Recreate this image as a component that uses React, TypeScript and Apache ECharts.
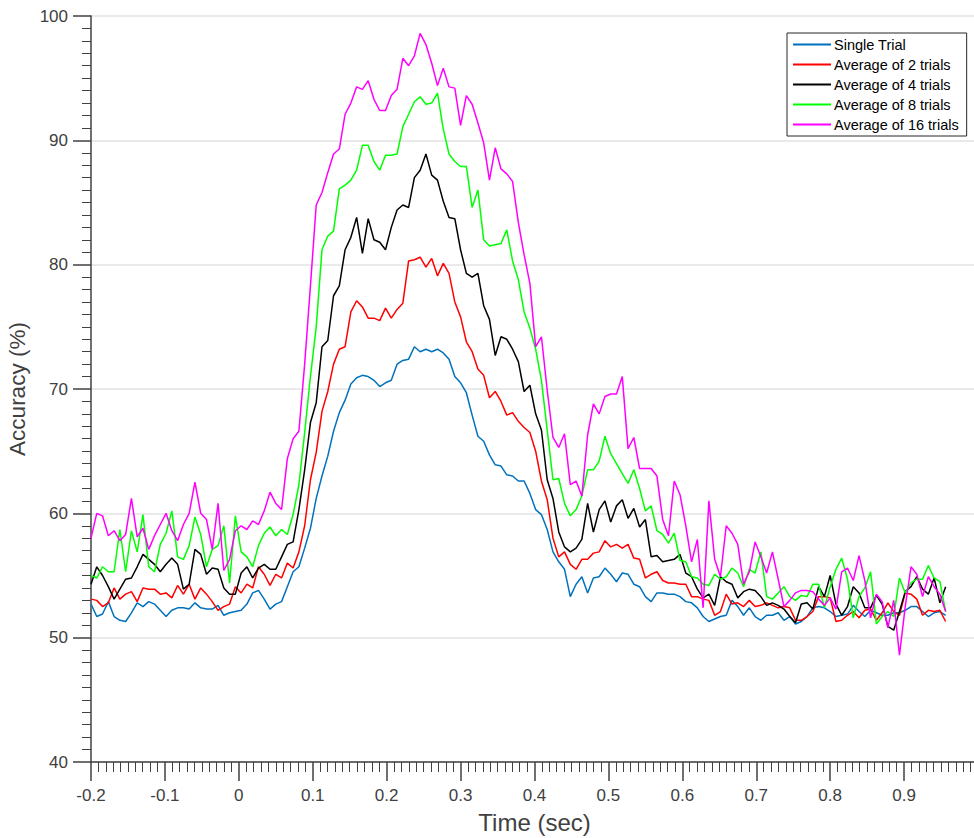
import React, { useEffect, useRef } from "react";
import * as echarts from "echarts";

// Sampling of the decoding time course (seconds)
const T_START = -0.2;
const SAMPLE_RATE = 128;

const seriesNames = [
  "Single Trial",
  "Average of 2 trials",
  "Average of 4 trials",
  "Average of 8 trials",
  "Average of 16 trials",
];

const singleTrial = [
  52.7, 51.7, 51.9, 52.9, 51.7, 51.4, 51.3, 52.0, 52.8, 52.5, 52.9, 52.7, 52.2, 51.7, 52.2, 52.4, 52.4, 52.3, 52.8, 52.4,
  52.3, 52.3, 52.6, 51.8, 52.0, 52.1, 52.2, 52.7, 53.6, 53.8, 53.1, 52.3, 52.7, 52.9, 54.1, 55.3, 55.7, 57.2, 58.8, 61.2,
  63.0, 64.6, 66.6, 68.1, 69.1, 70.4, 70.9, 71.1, 71.0, 70.7, 70.2, 70.5, 70.7, 72.0, 72.3, 72.4, 73.4, 73.0, 73.2, 73.0,
  73.2, 72.9, 72.4, 71.0, 70.5, 69.7, 67.9, 66.2, 65.8, 64.7, 63.9, 63.8, 63.1, 63.0, 62.6, 62.6, 61.6, 60.3, 59.9, 58.7,
  56.9, 56.1, 55.5, 53.3, 54.3, 54.9, 53.6, 54.8, 54.9, 55.6, 55.1, 54.5, 55.2, 55.1, 54.3, 54.1, 53.3, 52.9, 53.6, 53.6,
  53.5, 53.5, 53.3, 52.9, 52.8, 52.4, 51.7, 51.3, 51.5, 51.7, 51.8, 53.0, 52.5, 51.8, 52.4, 51.7, 51.4, 51.8, 51.8, 52.0,
  51.4, 51.7, 51.1, 51.3, 51.7, 52.4, 52.5, 52.4, 52.1, 51.7, 51.8, 51.9, 52.6, 52.1, 51.7, 52.2, 52.0, 51.8, 51.8, 52.0,
  52.0, 52.2, 52.5, 52.5, 52.1, 51.7, 52.0, 52.1, 51.8,
];

const averageOf2 = [
  53.1, 53.0, 52.5, 52.8, 54.0, 53.1, 53.5, 53.7, 52.9, 54.0, 53.9, 53.9, 53.5, 53.6, 53.2, 54.2, 53.5, 54.3, 53.1, 54.0,
  53.5, 52.9, 52.2, 52.5, 52.7, 54.1, 53.6, 54.3, 54.0, 55.7, 55.1, 54.2, 55.1, 54.8, 56.0, 55.6, 56.9, 59.0, 62.7, 64.9,
  68.2, 69.8, 72.0, 73.2, 73.4, 76.2, 77.1, 76.6, 75.7, 75.7, 75.5, 76.5, 75.7, 76.4, 76.9, 80.3, 80.4, 80.6, 79.8, 80.5,
  79.1, 80.1, 79.3, 77.0, 75.8, 73.8, 73.0, 71.6, 71.1, 69.3, 69.8, 69.0, 67.9, 68.1, 67.4, 66.9, 66.5, 65.0, 62.6, 61.1,
  58.0, 56.5, 56.9, 55.9, 55.5, 56.3, 56.3, 56.8, 56.9, 57.8, 57.3, 57.5, 57.2, 57.5, 56.4, 56.3, 54.8, 55.1, 55.3, 54.6,
  54.4, 54.4, 54.3, 54.3, 53.3, 53.3, 53.1, 53.0, 51.8, 52.1, 53.5, 52.7, 52.8, 52.5, 53.0, 52.5, 52.6, 52.8, 52.6, 52.4,
  52.5, 52.4, 51.4, 51.4, 51.7, 52.1, 53.3, 53.3, 53.2, 51.3, 51.4, 51.8, 52.1, 51.6, 52.2, 52.3, 51.4, 52.0, 52.8, 52.1,
  51.8, 53.6, 53.5, 53.1, 51.8, 52.2, 52.1, 52.2, 51.3,
];

const averageOf4 = [
  54.3, 55.7, 55.0, 54.1, 53.1, 53.9, 54.7, 54.8, 55.7, 56.7, 56.3, 55.9, 55.3, 55.9, 56.4, 55.9, 53.9, 54.3, 57.1, 56.7,
  55.1, 55.6, 55.5, 54.0, 53.5, 53.5, 55.2, 55.7, 54.8, 55.6, 55.9, 55.5, 55.5, 56.5, 57.5, 57.7, 60.3, 63.5, 67.3, 68.9,
  73.4, 73.9, 77.5, 78.3, 81.2, 82.2, 83.8, 80.9, 83.7, 82.0, 81.8, 81.2, 83.0, 84.4, 84.8, 84.6, 87.0, 87.6, 88.9, 87.2,
  86.8, 85.1, 83.8, 83.7, 81.2, 79.3, 79.0, 79.3, 76.7, 75.6, 72.7, 74.2, 74.0, 73.2, 72.2, 69.8, 70.3, 68.0, 66.7, 62.7,
  61.2, 58.5, 57.3, 56.9, 57.2, 57.9, 60.8, 58.5, 60.3, 61.0, 59.3, 60.6, 61.1, 59.6, 60.4, 58.9, 59.5, 56.5, 56.6, 56.1,
  56.2, 56.3, 56.7, 55.2, 54.9, 53.9, 53.2, 53.5, 52.6, 54.9, 54.5, 54.3, 53.2, 53.7, 53.9, 53.8, 53.3, 52.6, 52.8, 52.6,
  52.3, 51.7, 51.2, 52.7, 52.8, 52.3, 54.1, 53.3, 55.0, 52.7, 51.8, 52.5, 54.1, 53.6, 52.4, 52.4, 53.4, 52.7, 50.9, 50.6,
  52.1, 53.7, 54.1, 54.9, 53.9, 53.5, 54.8, 52.8, 54.1,
];

const averageOf8 = [
  55.0, 54.8, 55.7, 55.3, 55.3, 58.7, 55.3, 58.6, 56.9, 59.9, 55.7, 55.3, 57.5, 58.4, 60.2, 56.5, 56.3, 57.4, 59.7, 58.3,
  55.7, 57.1, 57.4, 59.0, 54.4, 59.8, 56.9, 56.5, 55.7, 57.4, 58.4, 58.9, 58.2, 58.7, 58.3, 59.9, 62.3, 66.5, 71.0, 75.0,
  81.2, 82.3, 82.7, 86.1, 86.4, 86.8, 87.6, 89.6, 89.6, 88.3, 87.6, 88.8, 88.8, 88.9, 91.1, 92.1, 93.1, 93.5, 92.9, 93.0,
  93.8, 90.9, 88.9, 88.3, 87.9, 87.9, 84.6, 86.0, 82.0, 81.5, 81.6, 81.7, 82.8, 80.3, 78.8, 76.2, 74.9, 73.2, 70.7, 66.7,
  62.7, 62.8, 60.8, 59.8, 60.3, 61.4, 63.5, 63.5, 64.2, 66.2, 64.8, 64.0, 63.2, 62.4, 63.5, 62.0, 60.2, 60.6, 58.6, 58.3,
  57.6, 58.4, 56.2, 56.1, 54.9, 54.8, 54.3, 54.2, 55.1, 54.7, 54.9, 55.6, 55.2, 54.1, 55.5, 55.2, 56.9, 53.3, 53.1, 53.6,
  54.1, 53.3, 53.0, 53.4, 53.3, 54.3, 54.3, 52.4, 54.1, 55.5, 56.4, 54.7, 51.6, 53.3, 54.0, 55.3, 51.1, 51.7, 52.1, 51.7,
  54.8, 53.6, 54.4, 54.7, 54.7, 55.8, 54.8, 54.5, 52.1,
];

const averageOf16 = [
  58.0, 60.0, 59.8, 58.2, 58.6, 57.8, 58.3, 61.2, 58.1, 58.8, 57.1, 58.2, 59.1, 60.0, 58.6, 57.8, 59.1, 60.0, 62.5, 60.0,
  59.5, 57.1, 60.8, 55.4, 56.3, 58.6, 59.0, 58.7, 59.4, 59.1, 60.2, 61.7, 60.8, 60.3, 64.4, 66.0, 66.6, 72.0, 78.3, 84.8,
  85.8, 87.4, 88.9, 89.3, 92.1, 93.0, 94.3, 94.1, 94.8, 93.3, 92.4, 92.4, 93.6, 94.1, 96.6, 96.0, 96.8, 98.6, 97.7, 96.2,
  94.4, 95.8, 94.3, 94.2, 91.2, 93.6, 92.9, 91.4, 89.8, 86.8, 89.4, 87.7, 87.3, 86.7, 83.4, 80.8, 78.5, 73.4, 74.2, 69.9,
  66.1, 65.3, 66.4, 62.3, 62.6, 61.4, 66.3, 68.8, 68.0, 69.4, 69.6, 69.6, 71.0, 65.2, 66.1, 63.6, 63.6, 63.6, 63.0, 59.5,
  58.2, 62.6, 61.5, 59.0, 56.1, 57.9, 52.4, 61.0, 56.3, 54.9, 59.0, 58.4, 57.5, 54.3, 55.3, 57.7, 56.5, 55.2, 56.9, 54.7,
  52.5, 53.0, 53.6, 53.8, 53.8, 53.7, 53.1, 52.6, 53.2, 52.3, 55.3, 55.6, 54.6, 56.6, 54.6, 51.6, 53.5, 52.9, 50.8, 53.0,
  48.6, 52.5, 55.7, 55.1, 53.3, 54.9, 54.1, 53.5, 52.1,
];

const seriesValues = [singleTrial, averageOf2, averageOf4, averageOf8, averageOf16];
const lineColors = ["#0072BD", "#FF0000", "#000000", "#00FF00", "#FF00FF"];

const AXIS_COLOR = "#404040";
const FONT = "'Liberation Sans', Arial, Helvetica, sans-serif";

function toPoints(values: number[]): [number, number][] {
  return values.map((v, i) => [T_START + i / SAMPLE_RATE, v]);
}

export default function App() {
  const ref = useRef<HTMLDivElement>(null);

  useEffect(() => {
    if (!ref.current) return;
    const chart = echarts.init(ref.current, undefined, { renderer: "svg" });

    chart.setOption({
      animation: false,
      backgroundColor: "#ffffff",
      textStyle: { fontFamily: FONT },
      grid: {
        left: 91,
        top: 16,
        width: 887,
        height: 746,
        containLabel: false,
        outerBoundsMode: "none",
      },
      legend: {
        orient: "vertical",
        left: 787,
        top: 33,
        padding: [4, 8, 4, 6],
        itemWidth: 38,
        itemHeight: 2,
        itemGap: 5,
        icon: "rect",
        backgroundColor: "#ffffff",
        borderColor: "#262626",
        borderWidth: 1,
        borderRadius: 0,
        textStyle: {
          fontSize: 14.5,
          lineHeight: 15,
          color: "#000000",
          fontFamily: FONT,
          padding: [0, 0, 0, -2],
        },
        data: seriesNames,
      },
      xAxis: {
        type: "value",
        min: -0.2,
        max: 1.0,
        interval: 0.1,
        name: "Time (sec)",
        nameLocation: "middle",
        nameGap: 48,
        nameTextStyle: { fontSize: 24, color: AXIS_COLOR, fontFamily: FONT },
        axisLine: { show: true, onZero: false, lineStyle: { color: AXIS_COLOR, width: 1.5 } },
        axisTick: { show: true, inside: false, length: 19, lineStyle: { color: AXIS_COLOR, width: 1.5 } },
        minorTick: { show: true, splitNumber: 10, length: 10, lineStyle: { color: AXIS_COLOR, width: 1 } },
        axisLabel: {
          margin: 25,
          fontSize: 17,
          color: AXIS_COLOR,
          fontFamily: FONT,
          formatter: (v: number) => (v > 0.95 ? "" : String(parseFloat(v.toFixed(1)))),
        },
        splitLine: { show: false },
      },
      yAxis: {
        type: "value",
        min: 40,
        max: 100,
        interval: 10,
        name: "Accuracy (%)",
        nameLocation: "middle",
        nameGap: 47,
        nameTextStyle: { fontSize: 22.5, color: AXIS_COLOR, fontFamily: FONT },
        axisLine: { show: true, onZero: false, lineStyle: { color: AXIS_COLOR, width: 1.5 } },
        axisTick: { show: true, inside: false, length: 18, lineStyle: { color: AXIS_COLOR, width: 1.5 } },
        minorTick: { show: true, splitNumber: 10, length: 9, lineStyle: { color: AXIS_COLOR, width: 1 } },
        axisLabel: { margin: 23, fontSize: 17, color: AXIS_COLOR, fontFamily: FONT },
        splitLine: { show: true, lineStyle: { color: "#e3e3e3", width: 1.5 } },
      },
      series: seriesValues.map((values, k) => ({
        name: seriesNames[k],
        type: "line",
        data: toPoints(values),
        showSymbol: false,
        symbol: "none",
        color: lineColors[k],
        lineStyle: { color: lineColors[k], width: 1.5 },
        emphasis: { disabled: true },
        z: 2 + k,
      })),
    });

    return () => chart.dispose();
  }, []);

  return (
    <div
      ref={ref}
      style={{ position: "fixed", left: 0, top: 0, width: 974, height: 838, background: "#fff" }}
    />
  );
}
